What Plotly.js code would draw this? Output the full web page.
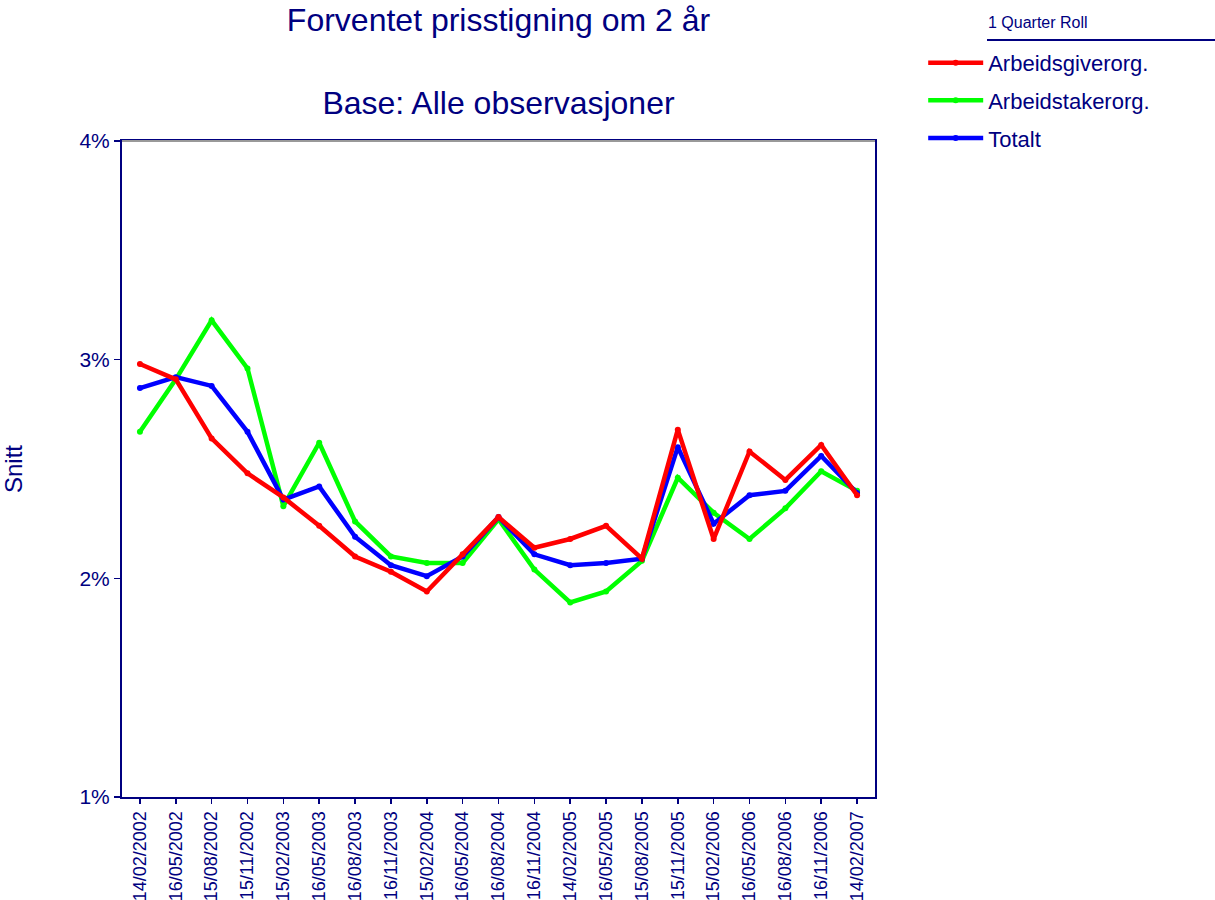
<!DOCTYPE html>
<html>
<head>
<meta charset="utf-8">
<script src="https://cdn.plot.ly/plotly-3.0.1.min.js"></script>
<style>html,body{margin:0;padding:0;background:#fff;}#chart{width:1215px;height:900px;}</style>
</head>
<body>
<div id="chart"></div>
<script>
var dates = ["14/02/2002","16/05/2002","15/08/2002","15/11/2002","15/02/2003","16/05/2003","16/08/2003","16/11/2003","15/02/2004","16/05/2004","16/08/2004","16/11/2004","14/02/2005","16/05/2005","15/08/2005","15/11/2005","15/02/2006","16/05/2006","16/08/2006","16/11/2006","14/02/2007"];
var arbeidsgiver = [2.98,2.91,2.64,2.48,2.37,2.24,2.10,2.03,1.94,2.11,2.28,2.14,2.18,2.24,2.09,2.68,2.18,2.58,2.45,2.61,2.38];
var arbeidstaker = [2.67,2.91,3.18,2.96,2.33,2.62,2.26,2.10,2.07,2.07,2.27,2.04,1.89,1.94,2.08,2.46,2.30,2.18,2.32,2.49,2.40];
var totalt = [2.87,2.92,2.88,2.67,2.36,2.42,2.19,2.06,2.01,2.10,2.28,2.11,2.06,2.07,2.09,2.60,2.25,2.38,2.40,2.56,2.39];
var yTicks = [1,2,3,4];
var yTickText = yTicks.map(function (v) { return v + "%"; });

var navy = "#000080";
var font = "Liberation Sans, Arial, sans-serif";

function tr(name, y, color, rank, grp) {
  return {
    type: "scatter", mode: "lines+markers", name: name, x: dates, y: y,
    line: {color: color, width: 4.5}, marker: {color: color, size: 6},
    legendrank: rank, legendgroup: grp, hoverinfo: "x+y+name"
  };
}
var data = [
  tr("Arbeidstakerorg.", arbeidstaker, "#00FF00", 2, "g2"),
  tr("Totalt", totalt, "#0000FF", 3, "g3"),
  tr("Arbeidsgiverorg.", arbeidsgiver, "#FF0000", 1, "g1")
];

var layout = {
  width: 1215, height: 900,
  paper_bgcolor: "#fff", plot_bgcolor: "#fff",
  margin: {l: 122, r: 340, t: 141, b: 103},
  font: {family: font, color: navy, size: 19},
  title: {
    text: "Forventet prisstigning om 2 år<br><br>Base: Alle observasjoner",
    font: {family: font, size: 32, color: navy},
    x: 0.5, xref: "paper", y: 0.966, yref: "container", yanchor: "top"
  },
  showlegend: true,
  legend: {
    x: 1.064, xanchor: "left", y: 1.151, yanchor: "top",
    font: {family: font, size: 22, color: navy},
    traceorder: "grouped", tracegroupgap: 6,
    bgcolor: "rgba(0,0,0,0)", itemwidth: 55
  },
  xaxis: {
    type: "category", range: [-0.5, 20.5],
    showline: true, linecolor: navy, linewidth: 2, mirror: true,
    ticks: "outside", ticklen: 5, tickcolor: navy, tickwidth: 1.5,
    tickangle: -90, showgrid: false, zeroline: false,
    tickfont: {family: font, size: 18, color: navy}
  },
  yaxis: {
    range: [1, 4], tickmode: "array", tickvals: yTicks, ticktext: yTickText,
    showline: true, linecolor: navy, linewidth: 2, mirror: true,
    ticks: "outside", ticklen: 6, tickcolor: navy, tickwidth: 1.5,
    showgrid: false, zeroline: false,
    tickfont: {family: font, size: 21, color: navy},
    title: {text: "Snitt", font: {family: font, size: 24, color: navy}, standoff: 58},
    automargin: false
  },
  annotations: [{
    text: "1 Quarter Roll", xref: "paper", yref: "paper",
    x: (986 - 122) / 753, y: (797 - 22) / 656, xanchor: "left", yanchor: "middle",
    showarrow: false, font: {family: font, size: 16, color: navy}
  }],
  shapes: [
    {type: "line", xref: "paper", yref: "paper", x0: (987 - 122) / 753, x1: (1215 - 122) / 753,
     y0: (797 - 40) / 656, y1: (797 - 40) / 656, line: {color: navy, width: 2}},
    {type: "line", xref: "paper", yref: "paper", x0: 0, x1: 1, y0: 1, y1: 1,
     line: {color: "#999999", width: 2}}
  ]
};

Plotly.newPlot("chart", data, layout, {displayModeBar: false, staticPlot: true});
</script>
</body>
</html>
